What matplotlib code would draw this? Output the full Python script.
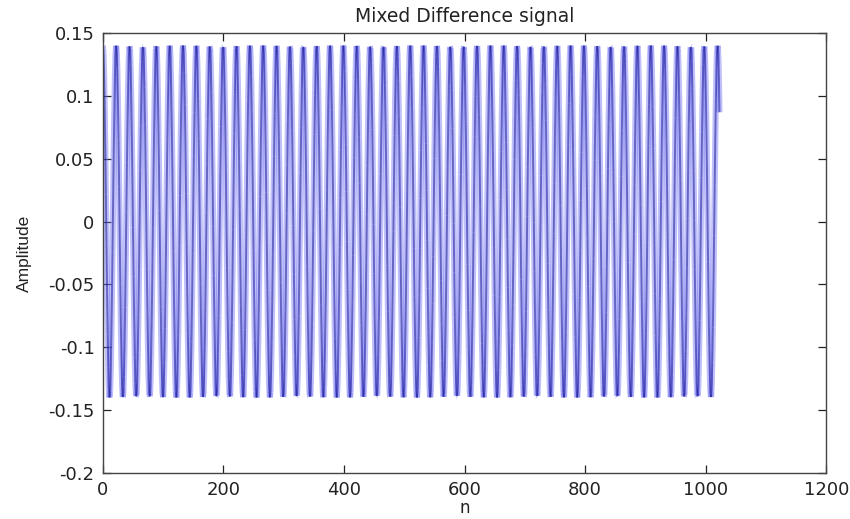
import numpy as np
import matplotlib
matplotlib.use("Agg")
import matplotlib.pyplot as plt
from matplotlib.collections import LineCollection

# Signal description: a sampled tone
n_samples = 1024          # number of samples n = 0 .. 1023
amplitude = 0.14          # peak amplitude
samples_per_cycle = 22.17 # period in samples
start_phase = 0.0

x_ticks = [0, 200, 400, 600, 800, 1000, 1200]
y_ticks = [-0.2, -0.15, -0.1, -0.05, 0, 0.05, 0.1, 0.15]
y_tick_labels = ["-0.2", "-0.15", "-0.1", "-0.05", "0", "0.05", "0.1", "0.15"]

n = np.arange(n_samples)
signal = amplitude * np.cos(2 * np.pi * n / samples_per_cycle + start_phase)

plt.rcParams["font.family"] = ["DejaVu Sans"]
fig = plt.figure(figsize=(8.5, 5.19), dpi=100)
ax = fig.add_axes([0.121, 0.0886, 0.851, 0.848])

# each segment drawn separately so overlapping strokes near the peaks build up
pts = np.column_stack([n, signal])
segs = np.stack([pts[:-1], pts[1:]], axis=1)
halo = LineCollection(segs, colors=[(0.45, 0.45, 0.97)], linewidths=4.4,
                      alpha=0.45, capstyle="butt")
core = LineCollection(segs, colors=[(0.05, 0.05, 0.55)], linewidths=1.4,
                      alpha=0.5, capstyle="butt")
ax.add_collection(halo)
ax.add_collection(core)

ax.set_xlim(0, 1200)
ax.set_ylim(-0.2, 0.15)
ax.set_xticks(x_ticks)
ax.set_xticklabels([str(v) for v in x_ticks])
ax.set_yticks(y_ticks)
ax.set_yticklabels(y_tick_labels)
ax.tick_params(direction="in", top=True, right=True, length=6, width=0.9,
               labelsize=13, colors="#222222", pad=6)
for s in ax.spines.values():
    s.set_linewidth(1.0)
    s.set_color("#444444")

ax.set_title("Mixed Difference signal", fontsize=13.5, pad=8, color="#222222")
ax.set_xlabel("n", fontsize=12, labelpad=0, color="#222222")
ax.set_ylabel("Amplitude", fontsize=12.5, labelpad=12, color="#222222",
              family=["Liberation Sans", "DejaVu Sans"])

fig.savefig("out.png", dpi=100)
